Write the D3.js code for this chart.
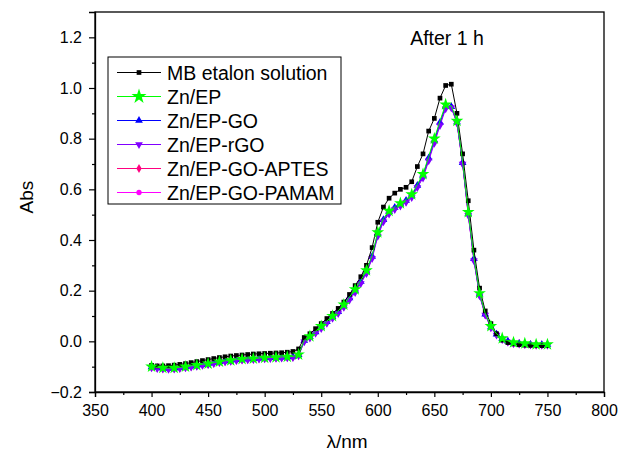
<!DOCTYPE html>
<html><head><meta charset="utf-8">
<script src="https://cdnjs.cloudflare.com/ajax/libs/d3/7.8.5/d3.min.js"></script>
<style>body{margin:0;background:#fff}svg{display:block}text{font-family:"Liberation Sans",Arial,sans-serif;fill:#000}</style>
</head><body><svg id="c" width="621" height="454"></svg>
<script>
const wavelengths = d3.range(400, 751, 5);
const mbEtalon = [-0.095,-0.097,-0.097,-0.096,-0.094,-0.091,-0.088,-0.084,-0.080,-0.076,-0.072,-0.068,-0.064,-0.061,-0.058,-0.056,-0.054,-0.052,-0.050,-0.049,-0.048,-0.047,-0.046,-0.045,-0.043,-0.040,-0.030,0.015,0.030,0.050,0.070,0.090,0.110,0.130,0.155,0.185,0.220,0.255,0.300,0.370,0.470,0.530,0.565,0.585,0.600,0.608,0.630,0.690,0.740,0.830,0.880,0.960,1.010,1.015,0.900,0.740,0.555,0.360,0.210,0.120,0.070,0.030,0.005,-0.005,-0.010,-0.013,-0.015,-0.016,-0.017,-0.017,-0.017];
const znEP = [-0.100,-0.103,-0.105,-0.106,-0.105,-0.103,-0.100,-0.097,-0.094,-0.091,-0.088,-0.084,-0.080,-0.077,-0.075,-0.072,-0.070,-0.069,-0.068,-0.066,-0.065,-0.064,-0.063,-0.062,-0.061,-0.060,-0.052,0.005,0.020,0.040,0.060,0.080,0.100,0.120,0.145,0.175,0.205,0.240,0.280,0.340,0.430,0.485,0.515,0.532,0.545,0.560,0.580,0.620,0.660,0.730,0.800,0.870,0.935,0.930,0.870,0.710,0.510,0.330,0.190,0.110,0.060,0.030,0.012,0.002,-0.004,-0.006,-0.008,-0.010,-0.012,-0.012,-0.012];
const znEPGO = [-0.101,-0.104,-0.106,-0.107,-0.106,-0.104,-0.101,-0.098,-0.095,-0.092,-0.089,-0.085,-0.081,-0.078,-0.076,-0.073,-0.071,-0.070,-0.069,-0.067,-0.066,-0.065,-0.064,-0.063,-0.062,-0.061,-0.053,0.003,0.018,0.037,0.057,0.077,0.097,0.117,0.141,0.171,0.201,0.236,0.276,0.335,0.425,0.480,0.511,0.528,0.541,0.556,0.576,0.615,0.655,0.724,0.794,0.864,0.928,0.926,0.866,0.705,0.505,0.326,0.186,0.107,0.057,0.028,0.010,0.000,-0.006,-0.008,-0.010,-0.012,-0.013,-0.013,-0.013];
const znEPrGO = [-0.104,-0.107,-0.109,-0.110,-0.109,-0.107,-0.104,-0.101,-0.098,-0.095,-0.092,-0.088,-0.084,-0.081,-0.079,-0.076,-0.074,-0.073,-0.072,-0.070,-0.069,-0.068,-0.067,-0.066,-0.065,-0.064,-0.057,-0.002,0.013,0.032,0.051,0.071,0.091,0.110,0.134,0.163,0.193,0.228,0.268,0.327,0.415,0.472,0.503,0.520,0.534,0.549,0.568,0.607,0.645,0.713,0.782,0.852,0.918,0.922,0.862,0.700,0.498,0.318,0.180,0.104,0.054,0.025,0.007,-0.003,-0.009,-0.011,-0.013,-0.014,-0.015,-0.015,-0.015];
const znEPGOAPTES = [-0.102,-0.105,-0.107,-0.108,-0.107,-0.105,-0.102,-0.099,-0.096,-0.093,-0.090,-0.086,-0.082,-0.079,-0.077,-0.074,-0.072,-0.071,-0.070,-0.068,-0.067,-0.066,-0.065,-0.064,-0.063,-0.062,-0.055,0.002,0.016,0.035,0.055,0.075,0.095,0.114,0.138,0.168,0.198,0.232,0.272,0.331,0.420,0.476,0.507,0.524,0.538,0.552,0.572,0.611,0.650,0.718,0.788,0.858,0.924,0.924,0.864,0.702,0.501,0.322,0.183,0.105,0.056,0.027,0.009,-0.001,-0.007,-0.009,-0.011,-0.013,-0.014,-0.014,-0.014];
const znEPGOPAMAM = [-0.101,-0.104,-0.106,-0.107,-0.106,-0.104,-0.101,-0.098,-0.095,-0.092,-0.089,-0.085,-0.081,-0.078,-0.076,-0.073,-0.071,-0.070,-0.069,-0.067,-0.066,-0.065,-0.064,-0.063,-0.062,-0.061,-0.054,0.003,0.017,0.036,0.056,0.076,0.096,0.116,0.140,0.170,0.200,0.234,0.274,0.333,0.423,0.478,0.509,0.526,0.540,0.554,0.574,0.613,0.652,0.721,0.791,0.861,0.926,0.925,0.865,0.704,0.503,0.324,0.185,0.106,0.057,0.028,0.010,0.000,-0.006,-0.008,-0.010,-0.012,-0.013,-0.013,-0.013];

const seriesNames = ["MB etalon solution","Zn/EP","Zn/EP-GO","Zn/EP-rGO","Zn/EP-GO-APTES","Zn/EP-GO-PAMAM"];
const seriesValues = [mbEtalon, znEP, znEPGO, znEPrGO, znEPGOAPTES, znEPGOPAMAM];
const seriesColors = ["#000000","#00ff00","#0000ff","#8000ff","#ff0080","#ff00ff"];
const seriesSymbols = [d3.symbolSquare, d3.symbolStar, d3.symbolTriangle, d3.symbolTriangle, d3.symbolDiamond, d3.symbolCircle];
const xTicks = [350,400,450,500,550,600,650,700,750,800];
const yTicks = [-0.2,0.0,0.2,0.4,0.6,0.8,1.0,1.2];

const svg = d3.select("#c");
const L=95, R=604, T=12, B=392;
const x = d3.scaleLinear().domain([350,800]).range([L,R]);
const y = d3.scaleLinear().domain([-0.2,1.3]).range([B,T]);

// frame
svg.append("rect").attr("x",L).attr("y",T).attr("width",R-L).attr("height",B-T)
  .attr("fill","none").attr("stroke","#000").attr("stroke-width",1.3);

// axes
svg.append("g").attr("transform",`translate(0,${B})`)
  .call(d3.axisBottom(x).tickValues(xTicks).tickFormat(d3.format("d")).tickSize(5).tickPadding(8));
svg.append("g").attr("transform",`translate(0,${B})`)
  .call(d3.axisBottom(x).tickValues(d3.range(375,800,50)).tickFormat("").tickSize(3))
  .call(g=>g.select(".domain").remove());
svg.append("g").attr("transform",`translate(${L},0)`)
  .call(d3.axisLeft(y).tickValues(yTicks).tickFormat(d3.format(".1f")).tickSize(6).tickPadding(7));
svg.append("g").attr("transform",`translate(${L},0)`)
  .call(d3.axisLeft(y).tickValues([-0.1,0.1,0.3,0.5,0.7,0.9,1.1]).tickFormat("").tickSize(3))
  .call(g=>g.select(".domain").remove());
svg.selectAll(".tick line").attr("stroke","#000").attr("stroke-width",1.2);
svg.selectAll(".domain").attr("stroke","#000").attr("stroke-width",1.3);
svg.selectAll(".tick text").attr("font-size",16).attr("font-family","Liberation Sans, Arial, sans-serif");

// axis titles
svg.append("text").attr("x",347).attr("y",448).attr("text-anchor","middle").attr("font-size",19).text("λ/nm");
svg.append("text").attr("transform",`translate(33,197) rotate(-90)`).attr("text-anchor","middle").attr("font-size",19).text("Abs");
svg.append("text").attr("x",447).attr("y",45).attr("text-anchor","middle").attr("font-size",19.5).text("After 1 h");

// data
const line = d3.line().x(d=>x(d[0])).y(d=>y(d[1]));
const drawOrder = [4,5,2,3,0,1];
const symSize = [22,50,26,26,24,22];
drawOrder.forEach(i=>{
  const pts = wavelengths.map((w,k)=>[w, seriesValues[i][k]]);
  const g = svg.append("g");
  g.append("path").datum(pts).attr("d",line).attr("fill","none").attr("stroke",seriesColors[i]).attr("stroke-width",1);
  const mpts = i===1 ? pts.filter((d,k)=>k%2===0) : pts;
  g.selectAll("path.m").data(mpts).join("path").attr("class","m")
    .attr("transform",d=>`translate(${x(d[0])},${y(d[1])})${i===3?" rotate(180)":""}`)
    .attr("d",d3.symbol().type(seriesSymbols[i]).size(symSize[i]))
    .attr("fill",seriesColors[i]);
});

// legend
const lg = svg.append("g");
lg.append("rect").attr("x",108).attr("y",57).attr("width",233).attr("height",147)
  .attr("fill","#fff").attr("stroke","#000").attr("stroke-width",1);
seriesNames.forEach((n,i)=>{
  const cy = 72.5 + i*24;
  lg.append("line").attr("x1",117).attr("x2",161).attr("y1",cy).attr("y2",cy).attr("stroke",seriesColors[i]).attr("stroke-width",1);
  lg.append("path").attr("transform",`translate(139,${cy})${i===3?" rotate(180)":""}`)
    .attr("d",d3.symbol().type(seriesSymbols[i]).size(i===1?70:symSize[i])).attr("fill",seriesColors[i]);
  lg.append("text").attr("x",167).attr("y",cy+7).attr("font-size",19.5).text(n);
});
</script></body></html>
